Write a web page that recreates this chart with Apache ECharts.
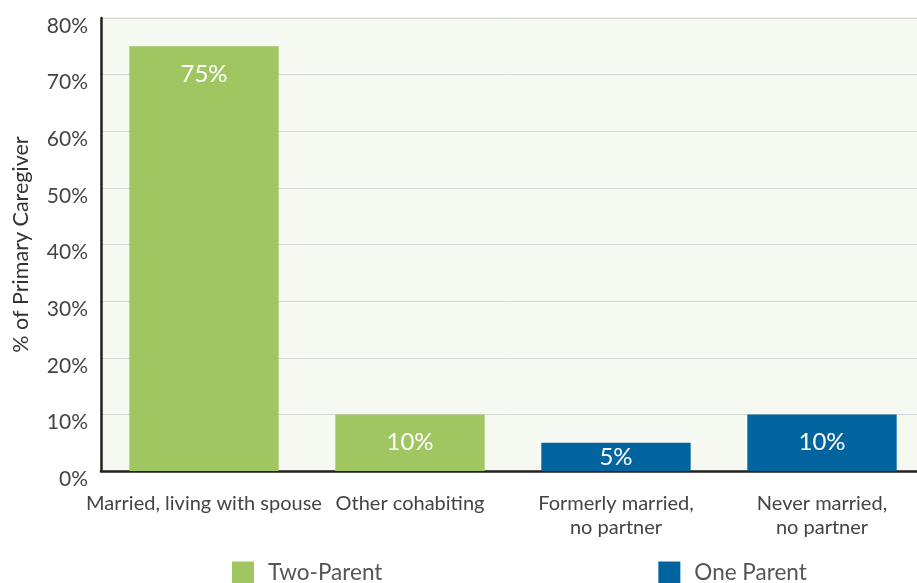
<!DOCTYPE html>
<html><head><meta charset="utf-8">
<script src="https://cdn.jsdelivr.net/npm/echarts@6/dist/echarts.min.js"></script>
<style>html,body{margin:0;padding:0;background:#fff}#c{width:917px;height:583px}</style>
</head><body><div id="c"></div>
<script>
var categories = ['Married, living with spouse', 'Other cohabiting', 'Formerly married,\nno partner', 'Never married,\nno partner'];
var twoParent = [75, 10, null, null];
var oneParent = [null, null, 5, 10];
var seriesNames = ['Two-Parent', 'One Parent'];
var yTicks = [0, 10, 20, 30, 40, 50, 60, 70, 80];

var FONT = 'Lato, "Noto Sans", sans-serif';
function mk(arr) {
  return arr.map(function (v) {
    if (v == null) return null;
    var big = v > 20;
    return {
      value: v,
      label: big ? { position: 'insideTop', distance: 16 } : { position: 'inside' }
    };
  });
}
var chart = echarts.init(document.getElementById('c'), null, { renderer: 'canvas' });
chart.setOption({
  animation: false,
  textStyle: { fontFamily: FONT },
  grid: { left: 101, top: 18, width: 824, height: 453, outerBoundsMode: 'none', containLabel: false, show: true, backgroundColor: '#f6f8f2', borderColor: '#dcdcdc', borderWidth: 1 },
  legend: {
    bottom: -1, left: 232, padding: 0, itemWidth: 22, itemHeight: 22, itemGap: 276,
    icon: 'rect',
    textStyle: { fontSize: 22.5, color: '#555', fontFamily: FONT, padding: [0, 0, 0, 9] },
    data: seriesNames
  },
  xAxis: {
    type: 'category', data: categories,
    axisLine: { lineStyle: { color: '#222', width: 2.5 } },
    axisTick: { inside: true, length: 10, lineStyle: { color: '#222', width: 2 } },
    axisLabel: { color: '#444', fontSize: 20, margin: 21, lineHeight: 24, fontFamily: FONT, interval: 0 }
  },
  yAxis: {
    type: 'value', min: yTicks[0], max: yTicks[yTicks.length - 1], interval: 10,
    name: '% of Primary Caregiver', nameLocation: 'middle', nameGap: 69, nameRotate: 90,
    nameTextStyle: { fontSize: 21.5, color: '#333', fontFamily: FONT },
    axisLine: { show: true, lineStyle: { color: '#222', width: 2.5 } },
    axisTick: { show: false },
    splitLine: { lineStyle: { color: '#d6d6d6', width: 1 } },
    axisLabel: {
      formatter: function (v) { return '{a|' + v + '%}'; },
      margin: 13, fontFamily: FONT,
      rich: { a: { color: '#444', fontSize: 21, fontFamily: FONT, padding: [16, 0, 0, 0] } }
    }
  },
  series: [
    {
      name: seriesNames[0], type: 'bar', stack: 't', barWidth: '72.5%', data: mk(twoParent),
      itemStyle: { color: '#a0c662' },
      label: { show: true, color: '#fff', fontSize: 24, fontFamily: FONT, formatter: '{c}%' }
    },
    {
      name: seriesNames[1], type: 'bar', stack: 't', barWidth: '72.5%', data: mk(oneParent),
      itemStyle: { color: '#02649f' },
      label: { show: true, color: '#fff', fontSize: 24, fontFamily: FONT, formatter: '{c}%' }
    }
  ]
});
</script></body></html>
